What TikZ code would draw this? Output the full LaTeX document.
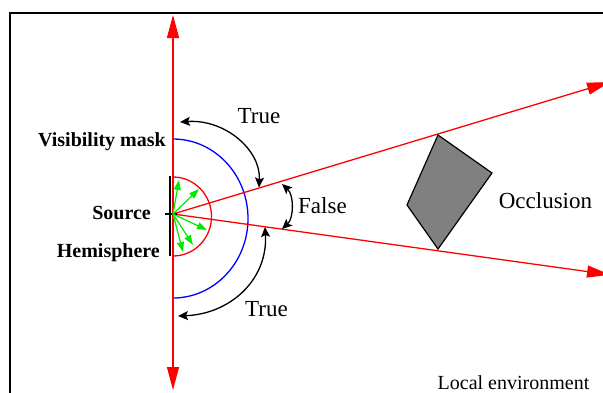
\documentclass[tikz,border=0pt]{standalone}
\usepackage{fontspec}
\setmainfont{Liberation Serif}
\usetikzlibrary{arrows.meta}
\definecolor{hemigreen}{RGB}{0,235,0}
\definecolor{occgray}{RGB}{128,128,128}
\begin{document}
\begin{tikzpicture}[x=1pt,y=-1pt,
  redline/.style={draw=red, line width=1.3pt},
  redtip/.style={-{Triangle[length=23pt,width=12pt]}},
  bothred/.style={{Triangle[length=23pt,width=12pt]}-{Triangle[length=23pt,width=12pt]}},
  blackarc/.style={draw=black, line width=1.3pt, {Stealth[length=10pt,width=9pt,inset=2pt]}-{Stealth[length=10pt,width=9pt,inset=2pt]}},
  greenarrow/.style={draw=hemigreen, line width=1.2pt, -{Triangle[length=10pt,width=7pt]}},
  boldlabel/.style={font=\fontsize{20}{24}\selectfont\bfseries, inner sep=0pt},
  biglabel/.style={font=\fontsize{23}{27}\selectfont, inner sep=0pt},
  smalllabel/.style={font=\fontsize{20}{24}\selectfont, inner sep=0pt}
]
\useasboundingbox (0,0) rectangle (603,392);
\clip (0,0) rectangle (603,392);
\fill[white] (0,0) rectangle (603,392);

% frame (local environment)
\draw[line width=1.3pt] (10,13) rectangle (660,440);

% key points
\coordinate (src) at (173,214);
\coordinate (vtop) at (173,15);
\coordinate (vbot) at (173,390);
\coordinate (rayup) at (610,82);
\coordinate (raydn) at (610,274.7);

% blue visibility mask
\draw[blue, line width=1.3pt] (173,139) arc[start angle=-90, end angle=90, x radius=75, y radius=79.5];

% red hemisphere
\draw[red, line width=1.3pt] (173,177) arc[start angle=-90, end angle=90, x radius=38.5, y radius=39.5];

% vertical axis
\draw[redline, bothred] (vtop) -- (vbot);

% rays
\draw[redline, redtip] (src) -- (rayup);
\draw[redline, redtip] (src) -- (raydn);

% occlusion
\coordinate (o1) at (438,135);
\coordinate (o2) at (492,173);
\coordinate (o3) at (438,249);
\coordinate (o4) at (407,205);
\draw[fill=occgray, line width=1.2pt, line join=miter] (o1) -- (o2) -- (o3) -- (o4) -- cycle;

% source bar and tick
\coordinate (bartop) at (170,176);
\coordinate (barbot) at (170,256);
\draw[line width=2.2pt] (bartop) -- (barbot);
\coordinate (tickl) at (165,214);
\coordinate (tickr) at (177,214);
\draw[line width=1.5pt] (tickl) -- (tickr);

% green hemisphere arrows
\coordinate (g1) at (179,180);
\coordinate (g2) at (199,189);
\coordinate (g3) at (207,230);
\coordinate (g4) at (193,245);
\coordinate (g5) at (183,252);
\foreach \g in {g1,g2,g3,g4,g5} \draw[greenarrow] (src) -- (\g);

% black angle arrows
\coordinate (tu1) at (180,122);
\coordinate (tu2) at (259,187.5);
\draw[blackarc] (tu1) .. controls (225,119) and (261,150) .. (tu2);
\coordinate (tl1) at (178,316);
\coordinate (tl2) at (265,227);
\draw[blackarc] (tl1) .. controls (230,314) and (268,280) .. (tl2);
\coordinate (f1) at (282,184);
\coordinate (f2) at (282,229);
\draw[blackarc] (f1) .. controls (294,195) and (294,218) .. (f2);

% labels
\node[boldlabel, anchor=base east] (lvis) at (166,146) {Visibility mask};
\node[boldlabel, anchor=base east] (lsrc) at (151,219) {Source};
\node[boldlabel, anchor=base east] (lhemi) at (160,257) {Hemisphere};
\node[biglabel, anchor=base] (ltrue1) at (259,123) {True};
\node[biglabel, anchor=base] (ltrue2) at (266.5,316) {True};
\node[biglabel, anchor=base west] (lfalse) at (298,213) {False};
\node[biglabel, anchor=base] (locc) at (545.5,208) {Occlusion};
\node[smalllabel, anchor=base] (lenv) at (513.5,389) {Local environment};
\end{tikzpicture}
\end{document}
